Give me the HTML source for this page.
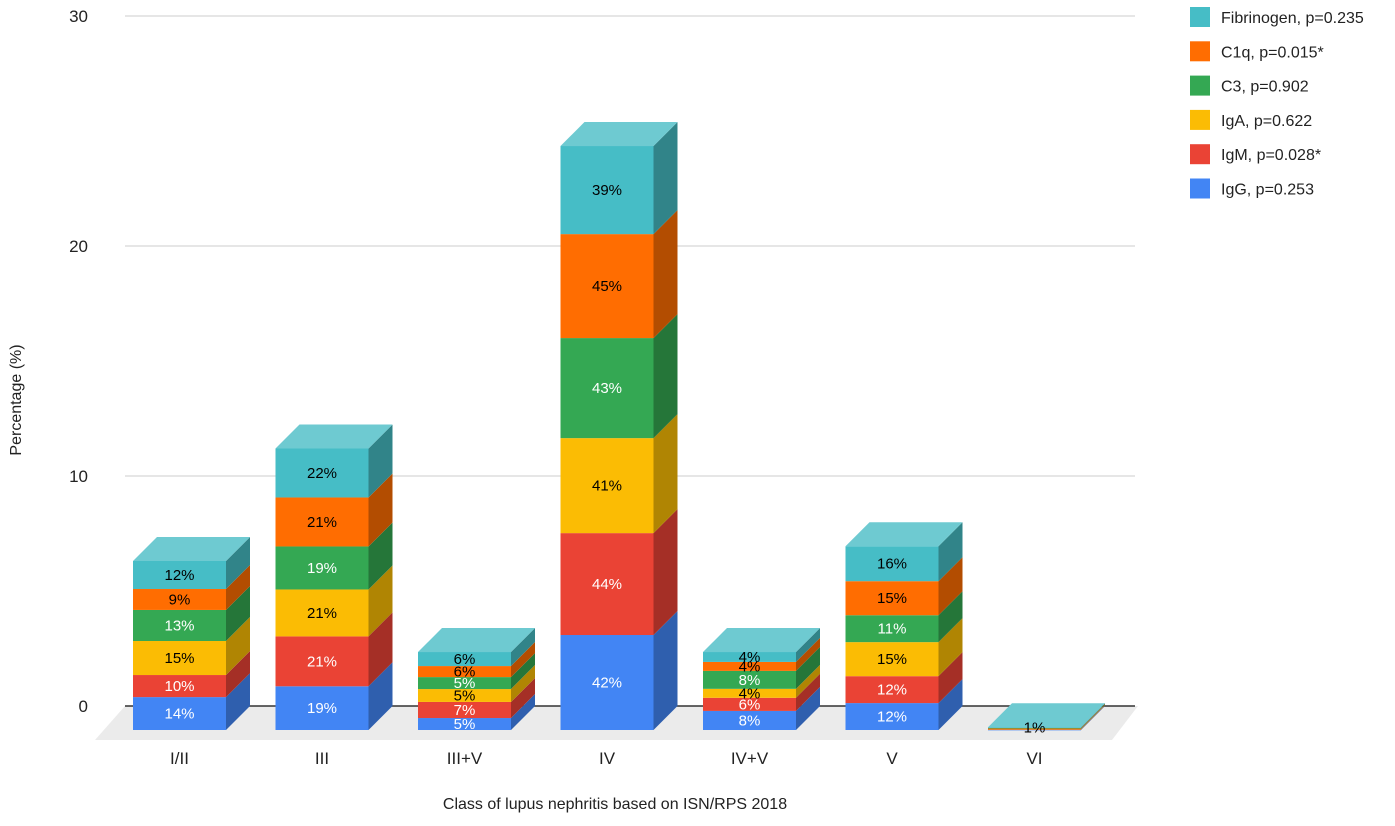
<!DOCTYPE html>
<html><head><meta charset="utf-8"><style>
body{margin:0;background:#fff;font-family:"Liberation Sans",Arial,sans-serif;}
svg text{font-family:"Liberation Sans",Arial,sans-serif;}
</style></head><body>
<svg id="chart" width="1395" height="821" xmlns="http://www.w3.org/2000/svg"></svg>
<script>
const categories=["I/II","III","III+V","IV","IV+V","V","VI"];
const seriesNames=["IgG, p=0.253","IgM, p=0.028*","IgA, p=0.622","C3, p=0.902","C1q, p=0.015*","Fibrinogen, p=0.235"];
const igG=[1.43,1.9,0.52,4.13,0.83,1.17,0.02];
const igM=[0.96,2.17,0.7,4.43,0.57,1.17,0.02];
const igA=[1.48,2.04,0.56,4.13,0.39,1.48,0.02];
const c3=[1.35,1.87,0.52,4.35,0.78,1.17,0.02];
const c1q=[0.91,2.13,0.48,4.52,0.39,1.48,0.02];
const fib=[1.22,2.13,0.61,3.83,0.43,1.52,0.02];
const pctLabels=[["14%","19%","5%","42%","8%","12%",""],["10%","21%","7%","44%","6%","12%",""],["15%","21%","5%","41%","4%","15%",""],["13%","19%","5%","43%","8%","11%",""],["9%","21%","6%","45%","4%","15%",""],["12%","22%","6%","39%","4%","16%","1%"]];
const yTicks=[0,10,20,30];
const series=[igG,igM,igA,c3,c1q,fib];
const front=["#4285f4","#ea4335","#fbbc04","#34a853","#ff6d01","#46bdc6"];
const side=["#2f5fae","#a52f26","#b08503","#257639","#b34d01","#318489"];
const topc=["#7aa9f7","#f07b70","#fcd05a","#71c287","#ff9a52","#6ecad1"];
const txtc=["#fff","#fff","#000","#fff","#000","#000"];
const NS="http://www.w3.org/2000/svg";
const svg=document.getElementById("chart");
const PX=23, BASE=730, BACK0=706, DX=24, DY=-24, BW=93;
function y(v){return BASE-v*PX;}
function gy(v){return BACK0-v*PX;}
function xc(i){return 133+i*142.5;}
function el(tag,attrs,parent){const e=document.createElementNS(NS,tag);for(const k in attrs)e.setAttribute(k,attrs[k]);(parent||svg).appendChild(e);return e;}
const floor=el("polygon",{points:"95,740 1112,740 1138,706 125,706",fill:"#ebebeb"});


yTicks.forEach(t=>{
  const g=el("line",{x1:125,x2:1135,y1:gy(t),y2:gy(t),stroke:t===0?"#333":"#ccc","stroke-width":t===0?1.5:1});
  
  
  const tl=el("text",{x:88,y:gy(t)+6,"text-anchor":"end","font-size":17,fill:"#222"});
  tl.textContent=t;
  
  
});
categories.forEach((c,i)=>{
  const x0=xc(i);
  let cum=0;
  const g=el("g",{});
  
  
  series.forEach((s,k)=>{
    const v=s[i];const yb=y(cum), yt=y(cum+v);cum+=v;
    const f=el("rect",{x:x0,y:yt,width:BW,height:Math.max(yb-yt,0.8),fill:front[k]},g);
    
    
    const sd=el("polygon",{points:`${x0+BW},${yb} ${x0+BW+DX},${yb+DY} ${x0+BW+DX},${yt+DY} ${x0+BW},${yt}`,fill:side[k]},g);
    
    
  });
  const yt=y(cum);
  const tp=el("polygon",{points:`${x0},${yt} ${x0+DX},${yt+DY} ${x0+BW+DX},${yt+DY} ${x0+BW},${yt}`,fill:topc[5]},g);
  
  
  cum=0;
  series.forEach((s,k)=>{
    const v=s[i];const ym=y(cum+v/2);cum+=v;
    const lbl=pctLabels[k][i]; if(!lbl)return;
    const t=el("text",{x:x0+BW/2,y:ym+5,"text-anchor":"middle","font-size":15,fill:txtc[k]},g);
    t.textContent=lbl;
    
    
  });
  const cl=el("text",{x:x0+BW/2,y:764,"text-anchor":"middle","font-size":17,fill:"#222"});
  cl.textContent=c;
  
  
});
const xt=el("text",{x:615,y:809,"text-anchor":"middle","font-size":16,fill:"#222"});
xt.textContent="Class of lupus nephritis based on ISN/RPS 2018";


const yt=el("text",{x:0,y:0,"text-anchor":"middle","font-size":16,fill:"#222",transform:"translate(21,400) rotate(-90)"});
yt.textContent="Percentage (%)";


for(let r=0;r<6;r++){
  const k=5-r;const ly=16+r*34.3;
  const lg=el("g",{});
  
  
  el("rect",{x:1190,y:ly-9,width:20,height:20,fill:front[k]},lg);
  const t=el("text",{x:1221,y:ly+7,"font-size":16,fill:"#222"},lg);
  t.textContent=seriesNames[k];
}
</script>
</body></html>
